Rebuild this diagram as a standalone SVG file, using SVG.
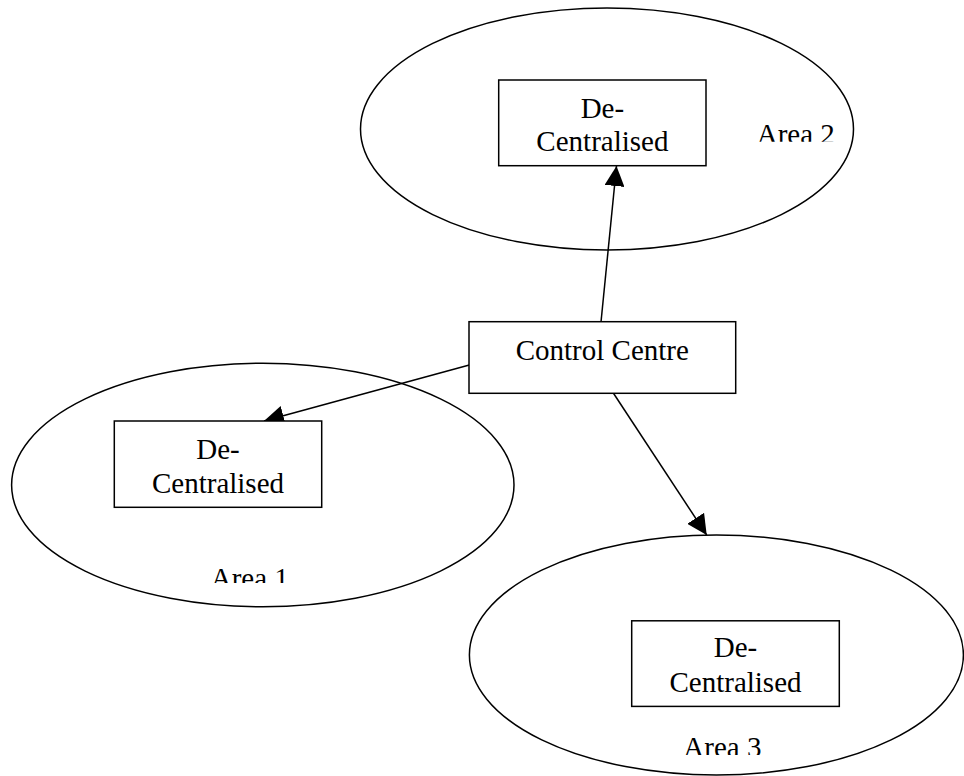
<svg xmlns="http://www.w3.org/2000/svg" width="964" height="776" viewBox="0 0 964 776">
  <style>
    .area { fill: none; stroke: #000; stroke-width: 1.5; }
    .box { fill: #fff; stroke: #000; stroke-width: 1.5; }
    .lbl { font-family: "Liberation Serif", "Times New Roman", serif; font-size: 29px; fill: #000; }
    .mid { text-anchor: middle; }
    .conn { fill: none; stroke: #000; stroke-width: 1.5; }
  </style>
  <defs>
    <marker id="arrow" viewBox="0 0 20 20" markerWidth="20" markerHeight="20" markerUnits="userSpaceOnUse" refX="20" refY="10" orient="auto">
      <path d="M0,0 L20,10 L0,20 z" fill="#000"/>
    </marker>
    <clipPath id="clipA2"><rect x="740" y="110" width="110" height="31.7"/></clipPath>
    <clipPath id="clipA1"><rect x="195" y="555" width="110" height="28"/></clipPath>
    <clipPath id="clipA3"><rect x="670" y="725" width="110" height="30"/></clipPath>
  </defs>
  <rect width="964" height="776" fill="#fff"/>

  <g id="area2">
    <ellipse class="area" cx="607" cy="129" rx="246.5" ry="121"/>
    <text class="lbl" x="756.7" y="144.2" clip-path="url(#clipA2)">Area 2</text>
  </g>
  <g id="area1">
    <ellipse class="area" cx="262.8" cy="485" rx="251.2" ry="121.7"/>
    <text class="lbl" x="210.7" y="587.5" clip-path="url(#clipA1)">Area 1</text>
  </g>
  <g id="area3">
    <ellipse class="area" cx="716.4" cy="655" rx="247" ry="120"/>
    <text class="lbl" x="683.3" y="756.7" clip-path="url(#clipA3)">Area 3</text>
  </g>

  <g id="connectors">
    <line class="conn" x1="601" y1="322" x2="616.5" y2="166" marker-end="url(#arrow)"/>
    <line class="conn" x1="469.3" y1="365" x2="264" y2="421" marker-end="url(#arrow)"/>
    <line class="conn" x1="613.3" y1="393" x2="706.7" y2="535" marker-end="url(#arrow)"/>
  </g>

  <g id="control-centre">
    <rect class="box" x="469" y="321.7" width="266.7" height="71.6"/>
    <text class="lbl mid" x="602.3" y="360">Control Centre</text>
  </g>
  <g id="decentralised-2">
    <rect class="box" x="498.7" y="80" width="207.3" height="85.7"/>
    <text class="lbl mid" x="602.4" y="118.3">De-</text>
    <text class="lbl mid" x="602.4" y="151.2">Centralised</text>
  </g>
  <g id="decentralised-1">
    <rect class="box" x="114.3" y="421" width="207.4" height="86.3"/>
    <text class="lbl mid" x="218" y="459.3">De-</text>
    <text class="lbl mid" x="218" y="493.3">Centralised</text>
  </g>
  <g id="decentralised-3">
    <rect class="box" x="631.7" y="620.8" width="207.6" height="85.6"/>
    <text class="lbl mid" x="735.5" y="656.7">De-</text>
    <text class="lbl mid" x="735.5" y="691.7">Centralised</text>
  </g>
</svg>
